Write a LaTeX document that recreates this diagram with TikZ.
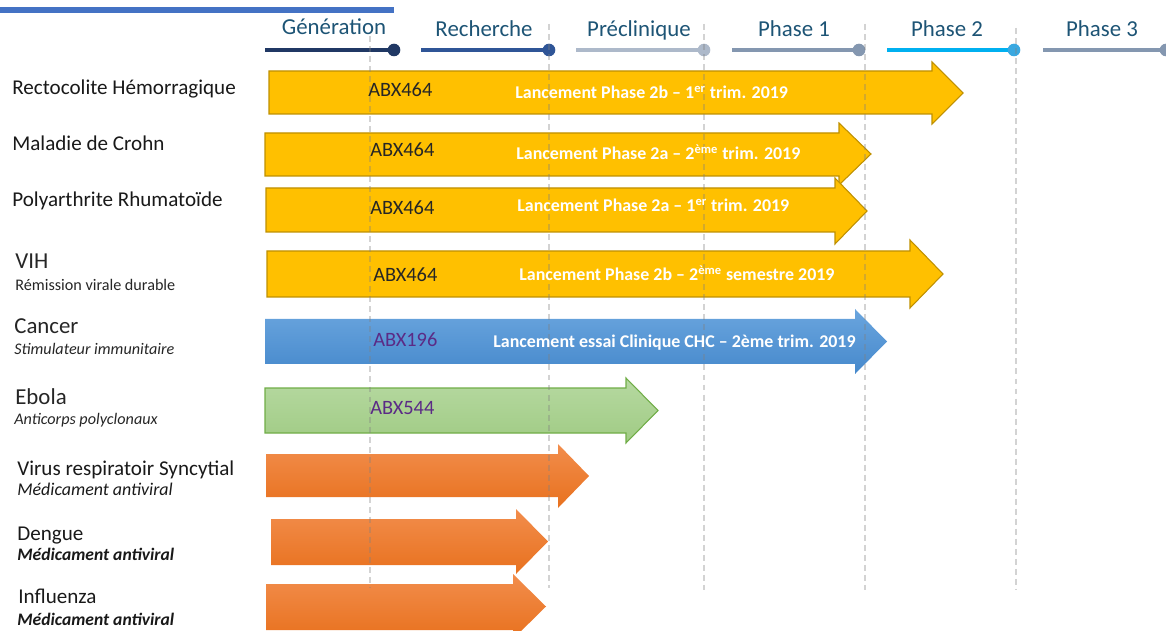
\documentclass[tikz,border=0pt]{standalone}
\usepackage{fontspec}
\setmainfont{Carlito}
\usetikzlibrary{positioning}

\definecolor{topblue}{HTML}{4472C4}
\definecolor{stagetxt}{HTML}{1D5475}
\definecolor{gencol}{HTML}{203864}
\definecolor{reccol}{HTML}{2F5597}
\definecolor{precol}{HTML}{ADB9CA}
\definecolor{ph1col}{HTML}{8497B0}
\definecolor{ph2col}{HTML}{00B0F0}
\definecolor{ph2dot}{HTML}{3AA8E0}
\definecolor{ph3col}{HTML}{8497B0}
\definecolor{barjaune}{HTML}{FFC000}
\definecolor{barjaunebord}{HTML}{BF9000}
\definecolor{bleuhaut}{HTML}{6AA5DE}
\definecolor{bleubas}{HTML}{4689CC}
\definecolor{verthaut}{HTML}{B6D9A1}
\definecolor{vertbas}{HTML}{A0CB84}
\definecolor{vertbord}{HTML}{70AD47}
\definecolor{orangehaut}{HTML}{F28D4C}
\definecolor{orangebas}{HTML}{E8711E}
\definecolor{violet}{HTML}{5B2B86}

\tikzset{
  stagelbl/.style={font=\fontsize{13}{15}\selectfont,text=stagetxt,anchor=base,inner sep=0pt},
  stageline/.style={line width=2.6pt},
  guide/.style={gray,opacity=0.35,line width=1.1pt,dash pattern=on 3.4pt off 2.3pt},
  rowlbl/.style={font=\fontsize{12}{14}\selectfont,text=black!90,anchor=base west,inner sep=0pt},
  rowlblbig/.style={font=\fontsize{13}{15}\selectfont,text=black!85,anchor=base west,inner sep=0pt},
  sublbl/.style={font=\fontsize{9.2}{11}\selectfont,text=black!85,anchor=base west,inner sep=0pt},
  sublblmed/.style={font=\fontsize{10.2}{12}\selectfont,text=black!90,anchor=base west,inner sep=0pt},
  drug/.style={font=\fontsize{11.6}{14}\selectfont,text=black!85,anchor=base west,inner sep=0pt},
  launch/.style={font=\bfseries\fontsize{10.2}{12}\selectfont,text=white,anchor=base west,inner sep=0pt},
  yellowbar/.style={fill=barjaune,draw=barjaunebord,line width=0.6pt},
  bluebar/.style={top color=bleuhaut,bottom color=bleubas},
  greenbar/.style={top color=verthaut,bottom color=vertbas,draw=vertbord,line width=0.6pt},
  orangebar/.style={top color=orangehaut,bottom color=orangebas}
}

\begin{document}
\begin{tikzpicture}[x=0.02cm,y=-0.02cm]
\useasboundingbox (0,0) rectangle (1166,631);
\clip (0,0) rectangle (1166,631);

% bandeau du haut
\draw[topblue,line width=3.1pt] (0,10) -- (394,10);

% etapes
\draw[stageline,gencol] (265,50) -- (394,50);
\fill[gencol] (394,50) circle (6.3);
\node[stagelbl] (gen) at (334,35) {Génération};
\draw[stageline,reccol] (421,50) -- (549,50);
\fill[reccol] (549,50) circle (6.3);
\node[stagelbl] (rec) at (484,37) {Recherche};
\draw[stageline,precol] (576,50) -- (704,50);
\fill[precol] (704,50) circle (6.3);
\node[stagelbl] (pre) at (639,37) {Préclinique};
\draw[stageline,ph1col] (732,50) -- (859,50);
\fill[ph1col] (859,50) circle (6.3);
\node[stagelbl] (ph1) at (794,37) {Phase 1};
\draw[stageline,ph2col] (887,50) -- (1014,50);
\fill[ph2dot] (1014,50) circle (6.3);
\node[stagelbl] (ph2) at (947,37) {Phase 2};
\draw[stageline,ph3col] (1043,50) -- (1166,50);
\fill[ph3col] (1166,50) circle (6.3);
\node[stagelbl] (ph3) at (1102,37) {Phase 3};

% fleches
\draw[yellowbar] (269,71) -- (932,71) -- (932,62) -- (963,93) -- (932,124) -- (932,114) -- (269,114) -- cycle;
\draw[yellowbar] (265,133) -- (839,133) -- (839,123) -- (871,154) -- (839,185) -- (839,176) -- (265,176) -- cycle;
\draw[yellowbar] (266,188) -- (835,188) -- (835,178) -- (867,211) -- (835,244) -- (835,232) -- (266,232) -- cycle;
\draw[yellowbar] (267,251) -- (910,251) -- (910,240) -- (943,274) -- (910,308) -- (910,297) -- (267,297) -- cycle;
\shade[bluebar] (265,319) -- (855,319) -- (855,309) -- (887,341.5) -- (855,374) -- (855,364) -- (265,364) -- cycle;
\draw[greenbar] (265,388) -- (626,388) -- (626,378) -- (658,410.5) -- (626,443) -- (626,433) -- (265,433) -- cycle;
\shade[orangebar] (266,454) -- (558,454) -- (558,444) -- (589,476) -- (558,508) -- (558,497) -- (266,497) -- cycle;
\shade[orangebar] (271,519) -- (516,519) -- (516,509) -- (548,541.5) -- (516,574) -- (516,565) -- (271,565) -- cycle;
\shade[orangebar] (266,584) -- (513,584) -- (513,574) -- (546,606.5) -- (513,639) -- (513,630) -- (266,630) -- cycle;

% reperes
\draw[guide] (370,36) -- (370,588);
\draw[guide] (549,24) -- (549,588);
\draw[guide] (704,24) -- (704,590);
\draw[guide] (865,24) -- (865,590);
\draw[guide] (1016,28) -- (1016,590);

% produits
\node[drug] (rh-drug) at (368,96.5) {ABX464};
\node[launch] (rh-launch) at (515,99) {Lancement Phase 2b – 1\textsuperscript{er} trim. 2019};
\node[drug] (mc-drug) at (370,157) {ABX464};
\node[launch] (mc-launch) at (516,160) {Lancement Phase 2a – 2\textsuperscript{ème} trim. 2019};
\node[drug] (pr-drug) at (370,214.5) {ABX464};
\node[launch] (pr-launch) at (517,212) {Lancement Phase 2a – 1\textsuperscript{er} trim. 2019};
\node[drug] (vih-drug) at (373,281.5) {ABX464};
\node[launch] (vih-launch) at (519,280.5) {Lancement Phase 2b – 2\textsuperscript{ème} semestre 2019};
\node[drug,text=violet] (ca-drug) at (373,346.5) {ABX196};
\node[launch] (ca-launch) at (493,348) {Lancement essai Clinique CHC – 2ème trim. 2019};
\node[drug,text=violet] (eb-drug) at (370,415) {ABX544};

% indications
\node[rowlbl] (rh) at (12,95) {Rectocolite Hémorragique};
\node[rowlbl] (mc) at (12,151) {Maladie de Crohn};
\node[rowlbl] (pr) at (12,207) {Polyarthrite Rhumatoïde};
\node[rowlblbig] (vih) at (15,269) {VIH};
\node[sublbl] (vih-sub) at (15,291) {Rémission virale durable};
\node[rowlblbig] (ca) at (14,334) {Cancer};
\node[sublbl,font=\itshape\fontsize{9.2}{11}\selectfont] (ca-sub) at (14,355) {Stimulateur immunitaire};
\node[rowlblbig] (eb) at (15,404) {Ebola};
\node[sublbl,font=\itshape\fontsize{9.2}{11}\selectfont] (eb-sub) at (14,424) {Anticorps polyclonaux};
\node[rowlbl] (vrs) at (17,475) {Virus respiratoir Syncytial};
\node[sublblmed,font=\itshape\fontsize{10.2}{12}\selectfont] (vrs-sub) at (17,495) {Médicament antiviral};
\node[rowlbl] (de) at (17,540) {Dengue};
\node[sublblmed,font=\bfseries\itshape\fontsize{10}{12}\selectfont] (de-sub) at (17,560) {Médicament antiviral};
\node[rowlbl] (in) at (18,603) {Influenza};
\node[sublblmed,font=\bfseries\itshape\fontsize{10}{12}\selectfont] (in-sub) at (17,625) {Médicament antiviral};
\end{tikzpicture}
\end{document}
